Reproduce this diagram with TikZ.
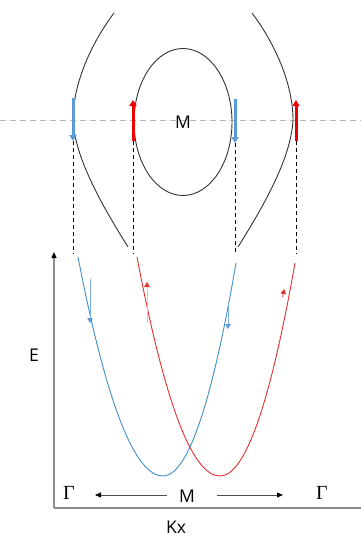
\documentclass[tikz,border=0pt]{standalone}
\usepackage{fontspec}
\setmainfont{Open Sans}
\newfontfamily\gfont{Liberation Serif}
\usetikzlibrary{arrows.meta}
\definecolor{bandblue}{HTML}{3F8FCB}
\definecolor{bandred}{HTML}{E23030}
\definecolor{spinblue}{HTML}{5B9BD5}
\definecolor{spinred}{HTML}{EE0000}
\begin{document}
\begin{tikzpicture}[x=1pt,y=-1pt,
  fermi/.style={draw=black!80, line width=0.9pt},
  cutline/.style={draw=black!28, dash pattern=on 6pt off 4pt, line width=1pt},
  proj/.style={draw=black, dash pattern=on 4pt off 3pt, line width=0.8pt},
  spinup/.style={draw=spinred, line width=3pt, -{Triangle[length=6pt,width=7pt]}},
  spindown/.style={draw=spinblue, line width=3pt, -{Triangle[length=6pt,width=7pt]}},
  lbl/.style={font=\fontsize{17.5}{20}\selectfont, inner sep=0pt},
  gam/.style={font=\gfont\fontsize{20}{24}\selectfont, inner sep=0pt},
  axis/.style={draw=black!45, line width=1.2pt}]
\useasboundingbox (0,0) rectangle (361,541);

% horizontal cut
\coordinate (cl) at (0,120);
\coordinate (cr) at (361,120);
\draw[cutline] (cl) -- (cr);

% Fermi surfaces
\draw[fermi] (114,13) .. controls (90,45) and (73,85) .. (73,120)
  .. controls (75,160) and (105,210) .. (128,247);
\draw[fermi] (252,13) .. controls (276,45) and (293,85) .. (293,120)
  .. controls (291,160) and (261,210) .. (238,247);
\draw[fermi] (183,122) ellipse [x radius=49, y radius=73.5];
\node[lbl] (mtop) at (183,122) {M};

% spin arrows on the cut
\coordinate (b1s) at (73,98);   \coordinate (b1e) at (73,141);
\coordinate (r1s) at (133,141); \coordinate (r1e) at (133,100);
\coordinate (b2s) at (235,99);  \coordinate (b2e) at (235,143);
\coordinate (r2s) at (296,141); \coordinate (r2e) at (296,100);
\draw[spindown] (b1s) -- (b1e);
\draw[spinup] (r1s) -- (r1e);
\draw[spindown] (b2s) -- (b2e);
\draw[spinup] (r2s) -- (r2e);

% projections
\coordinate (p1) at (73,254);
\coordinate (p2) at (133,254);
\coordinate (p3) at (235,254);
\coordinate (p4) at (296,254);
\draw[proj] (b1e) -- (p1);
\draw[proj] (r1s) -- (p2);
\draw[proj] (b2e) -- (p3);
\draw[proj] (r2s) -- (p4);

% axes
\coordinate (origin) at (54,508);
\coordinate (ytop) at (54,252);
\coordinate (xend) at (361,508);
\draw[axis, -{Triangle[length=6pt,width=5pt,color=black]}] (origin) -- (ytop);
\draw[axis] (origin) -- (xend);
\node[lbl] (E) at (34,355) {E};
\node[lbl] (kx) at (176,527) {Kx};

% bands
\draw[bandblue, line width=0.9pt] (78,257) .. controls (106.3,403) and (134.7,476) .. (163,476)
  .. controls (187.3,476) and (211.7,405) .. (236,263);
\draw[bandred, line width=0.9pt] (137,257) .. controls (164.7,403) and (192.3,476) .. (220,476)
  .. controls (245,476) and (270,405) .. (295,263);

% small spin arrows on bands
\draw[spinblue!80, line width=0.8pt, -{Triangle[length=5pt,width=5.5pt,color=spinblue]}] (90,279) -- (90,323);
\draw[spinblue!80, line width=0.8pt, -{Triangle[length=5pt,width=5.5pt,color=spinblue]}] (228,303) -- (228,329);
\draw[bandred!35, line width=0.8pt, -{Triangle[length=5pt,width=5.5pt,color=bandred]}] (147,323) -- (147,282);
\draw[bandred, line width=0.8pt, -{Triangle[length=5pt,width=5.5pt,color=bandred]}] (282.6,297) -- (284.3,289);

% labels at the bottom
\node[gam] (g1) at (69,493) {Γ};
\node[gam] (g2) at (322,493) {Γ};
\node[lbl] (mbot) at (187,496) {M};
\coordinate (al) at (95,495);
\coordinate (ar) at (283,495);
\draw[black!70, line width=0.8pt, -{Triangle[length=6pt,width=5pt,color=black]}] (167,495) -- (al);
\draw[black!70, line width=0.8pt, -{Triangle[length=6pt,width=5pt,color=black]}] (217,495) -- (ar);
\end{tikzpicture}
\end{document}
